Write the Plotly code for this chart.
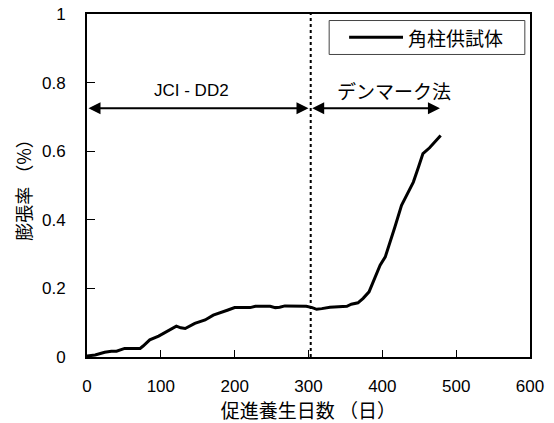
import plotly.graph_objects as go

# Expansion curve of the prism specimen (accelerated curing days vs. expansion %)
days = [0, 1, 11, 24, 33, 40, 51, 72, 76, 85, 97, 110, 121, 127, 133, 146, 160,
        171, 182, 191, 200, 221, 228, 248, 255, 261, 268, 280, 297, 305, 311, 318,
        329, 352, 358, 367, 374, 382, 388, 394, 397, 404, 410, 417, 426, 435,
        442, 449, 455, 464, 479]
expansion = [0.0, 0.003, 0.006, 0.014, 0.017, 0.017, 0.025, 0.025, 0.032, 0.050,
             0.061, 0.077, 0.090, 0.085, 0.083, 0.098, 0.108, 0.122, 0.129, 0.137,
             0.144, 0.144, 0.148, 0.148, 0.144, 0.145, 0.149, 0.148, 0.148, 0.144,
             0.139, 0.141, 0.145, 0.148, 0.154, 0.158, 0.171, 0.190, 0.222, 0.255,
             0.268, 0.292, 0.331, 0.379, 0.442, 0.481, 0.510, 0.554, 0.593, 0.610,
             0.646]

x_ticks = [0, 100, 200, 300, 400, 500, 600]
y_ticks = [0, 0.2, 0.4, 0.6, 0.8, 1]
y_tick_text = ["0", "0.2", "0.4", "0.6", "0.8", "1"]

boundary_day = 303          # switch from JCI-DD2 to the Danish method
jci_span = [0, 300]
danish_span = [303, 478]
arrow_level = 0.725

FONT = "Liberation Sans, Arial, Noto Sans CJK JP, sans-serif"
JP_FONT = "Noto Sans CJK JP, Liberation Sans, sans-serif"

fig = go.Figure()
fig.add_trace(go.Scatter(
    x=days, y=expansion, mode="lines", name="角柱供試体",
    line=dict(color="black", width=3), showlegend=False,
))

# boundary between the two test methods
fig.add_shape(type="line", xref="x", yref="y",
              x0=boundary_day, x1=boundary_day, y0=0, y1=1,
              line=dict(color="black", width=2, dash="dot"))

# double-headed span arrows
for span in (jci_span, danish_span):
    fig.add_annotation(x=span[1], y=arrow_level, ax=span[0], ay=arrow_level,
                       xref="x", yref="y", axref="x", ayref="y",
                       showarrow=True, arrowhead=2, startarrowhead=2,
                       arrowside="end+start", arrowsize=1.2, startarrowsize=1.2,
                       arrowwidth=2, arrowcolor="black", text="")

fig.add_annotation(x=142, y=0.778, xref="x", yref="y", text="JCI - DD2",
                   showarrow=False, font=dict(family=FONT, size=17, color="black"))
fig.add_annotation(x=416, y=0.778, xref="x", yref="y", text="デンマーク法",
                   showarrow=False, font=dict(family=JP_FONT, size=19, color="black"))

# legend box drawn in data space
fig.add_shape(type="rect", xref="x", yref="y", x0=328, x1=593, y0=0.882, y1=0.981,
              line=dict(color="#444444", width=1), fillcolor="white")
fig.add_shape(type="line", xref="x", yref="y", x0=355, x1=428, y0=0.932, y1=0.932,
              line=dict(color="black", width=3))
fig.add_annotation(x=432, y=0.932, xref="x", yref="y", text="角柱供試体",
                   xanchor="left", showarrow=False,
                   font=dict(family=JP_FONT, size=19, color="black"))

axis_common = dict(
    showline=True, linecolor="black", linewidth=2, mirror=True,
    ticks="inside", tickcolor="black", tickwidth=1,
    showgrid=False, zeroline=False, automargin=False,
    tickfont=dict(family=FONT, size=17, color="black"),
)

fig.update_xaxes(range=[0, 600], tickvals=x_ticks, ticklen=7,
                 ticklabelstandoff=13,
                 title=dict(text="促進養生日数 （日）", standoff=7,
                            font=dict(family=JP_FONT, size=19, color="black")),
                 **axis_common)
fig.update_yaxes(range=[0, 1], tickvals=y_ticks, ticktext=y_tick_text, ticklen=8,
                 ticklabelstandoff=16,
                 title=dict(text="膨張率 （%）", standoff=6,
                            font=dict(family=JP_FONT, size=18, color="black")),
                 **axis_common)

fig.update_layout(
    width=554, height=423,
    margin=dict(l=87, r=24, t=14, b=66, autoexpand=False),
    paper_bgcolor="white", plot_bgcolor="white",
    font=dict(family=FONT, color="black"),
)

fig.write_html("out.html")
